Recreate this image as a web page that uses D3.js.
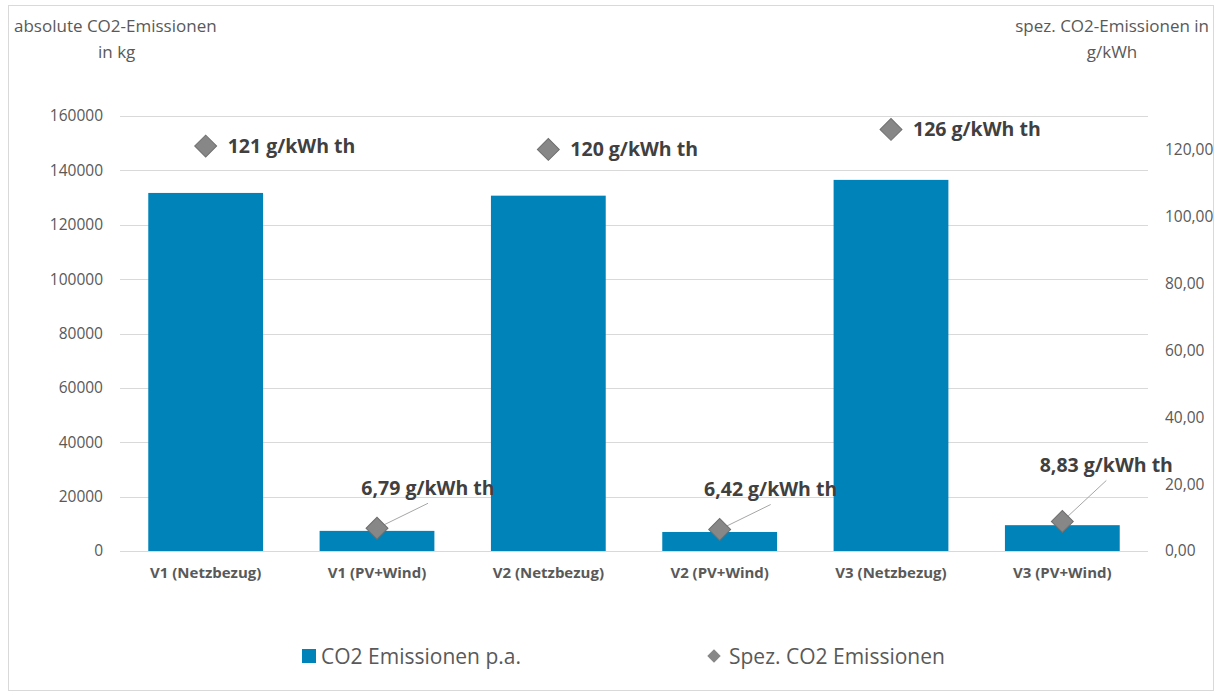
<!DOCTYPE html>
<html><head><meta charset="utf-8">
<script src="https://cdn.jsdelivr.net/npm/d3@7"></script>
<style>body{margin:0;background:#fff}svg{display:block}text{font-family:"Open Sans",sans-serif}</style>
</head><body><svg id="c" width="1217" height="696"></svg>
<script>
const categories = ["V1 (Netzbezug)","V1 (PV+Wind)","V2 (Netzbezug)","V2 (PV+Wind)","V3 (Netzbezug)","V3 (PV+Wind)"];
const absValues = [131700, 7400, 130700, 7000, 136500, 9500];
const specValues = [121, 6.79, 120, 6.42, 126, 8.83];
const specLabels = ["121 g/kWh th","6,79 g/kWh th","120 g/kWh th","6,42 g/kWh th","126 g/kWh th","8,83 g/kWh th"];
const leftTicks = [0,20000,40000,60000,80000,100000,120000,140000,160000];
const rightTicks = [0,20,40,60,80,100,120];
// label placement (presentation only): [dx, dy, anchor, leader line]
const labelPlacement = [[22,0,"start",false],[51,-40,"middle",true],[22,0,"start",false],[51,-40,"middle",true],[22,0,"start",false],[44,-56,"middle",true]];

const svg = d3.select("#c");
const L = 120, R = 1148, T = 116, B = 551;
const x = d3.scaleBand().domain(categories).range([L,R]).paddingInner(0.33).paddingOuter(0.165);
const yL = d3.scaleLinear().domain([0,160000]).range([B,T]);
const yR = d3.scaleLinear().domain([0,130]).range([B,T]);
const grey = "#595959";

svg.append("rect").attr("x",8.5).attr("y",5.5).attr("width",1205).attr("height",685).attr("fill","#fff").attr("stroke","#d9d9d9");

// gridlines
svg.append("g").selectAll("line").data(leftTicks).join("line")
  .attr("x1",L).attr("x2",R).attr("y1",d=>Math.round(yL(d))+0.5).attr("y2",d=>Math.round(yL(d))+0.5)
  .attr("stroke","#d9d9d9").attr("stroke-width",1);

// left axis
const gl = svg.append("g").attr("transform",`translate(${L},0)`)
  .call(d3.axisLeft(yL).tickValues(leftTicks).tickFormat(d3.format("d")).tickSize(0).tickPadding(17));
gl.select(".domain").remove();
gl.selectAll("text").attr("fill",grey).attr("font-size",15.5);

// right axis
const gr = svg.append("g").attr("transform",`translate(${R},0)`)
  .call(d3.axisRight(yR).tickValues(rightTicks).tickFormat(d=>d3.format(".2f")(d).replace(".",",")).tickSize(0).tickPadding(17));
gr.select(".domain").remove();
gr.selectAll("text").attr("fill",grey).attr("font-size",15.5);

// bars
svg.append("g").selectAll("rect").data(absValues).join("rect")
  .attr("x",(d,i)=>x(categories[i])).attr("width",x.bandwidth())
  .attr("y",d=>yL(d)).attr("height",d=>B-yL(d)).attr("fill","#0083b8");

// category labels
const gx = svg.append("g").attr("transform",`translate(0,${B})`)
  .call(d3.axisBottom(x).tickSize(0).tickPadding(16));
gx.select(".domain").remove();
gx.selectAll("text").attr("fill",grey).attr("font-size",15).attr("font-weight","bold");

// leader lines
specValues.forEach((v,i)=>{
  const cx = x(categories[i]) + x.bandwidth()/2, cy = yR(v);
  const p = labelPlacement[i];
  if (p[3]) {
    svg.append("line").attr("x1",cx).attr("y1",cy).attr("x2",cx+p[0]).attr("y2",cy+p[1]+15)
      .attr("stroke","#a6a6a6").attr("stroke-width",1);
  }
});
// markers
svg.append("g").selectAll("path").data(specValues).join("path")
  .attr("d",d3.symbol(d3.symbolSquare,240))
  .attr("transform",(d,i)=>`translate(${x(categories[i])+x.bandwidth()/2},${yR(d)}) rotate(45)`)
  .attr("fill","#878787").attr("stroke","#6f6f6f").attr("stroke-width",1);
// data labels
svg.append("g").selectAll("text").data(specValues).join("text")
  .attr("x",(d,i)=>x(categories[i])+x.bandwidth()/2+labelPlacement[i][0])
  .attr("y",(d,i)=>yR(d)+labelPlacement[i][1])
  .attr("dy","0.35em").attr("text-anchor",(d,i)=>labelPlacement[i][2])
  .attr("font-size",19.5).attr("font-weight","bold").attr("fill","#404040")
  .text((d,i)=>specLabels[i]);

// axis titles
svg.append("text").attr("x",14).attr("y",32).attr("font-size",17).attr("fill",grey).text("absolute CO2-Emissionen");
svg.append("text").attr("x",98).attr("y",58).attr("font-size",17).attr("fill",grey).text("in kg");
svg.append("text").attr("x",1209).attr("y",32).attr("text-anchor","end").attr("font-size",17).attr("fill",grey).text("spez. CO2-Emissionen in");
svg.append("text").attr("x",1112).attr("y",58).attr("text-anchor","middle").attr("font-size",17).attr("fill",grey).text("g/kWh");

// legend
svg.append("rect").attr("x",302).attr("y",649).attr("width",14).attr("height",14).attr("fill","#0083b8");
svg.append("text").attr("x",321).attr("y",664).attr("font-size",21).attr("fill",grey).text("CO2 Emissionen p.a.");
svg.append("path").attr("d",d3.symbol(d3.symbolSquare,90)).attr("transform","translate(714,656) rotate(45)").attr("fill","#878787");
svg.append("text").attr("x",729).attr("y",664).attr("font-size",21).attr("fill",grey).text("Spez. CO2 Emissionen");
</script></body></html>
